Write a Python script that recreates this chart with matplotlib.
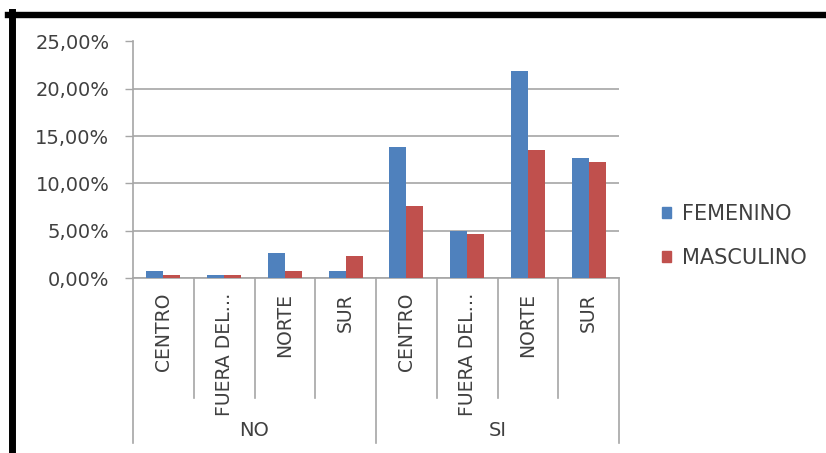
import matplotlib.pyplot as plt
import matplotlib.transforms as mtransforms
from matplotlib.lines import Line2D
from matplotlib.patches import Patch
import numpy as np

plt.rcParams['font.family'] = ['DejaVu Sans']

groups = ['NO', 'SI']
regions = ['CENTRO', 'FUERA DEL…', 'NORTE', 'SUR']
femenino = [0.75, 0.30, 2.65, 0.75, 13.9, 5.0, 21.9, 12.65]
masculino = [0.30, 0.30, 0.75, 2.35, 7.65, 4.6, 13.5, 12.3]
yticks = [0, 5, 10, 15, 20, 25]

blue = '#4F81BD'
red = '#C0504D'
grid_c = '#A6A6A6'
text_c = '#404040'

W, H = 826, 453
fig = plt.figure(figsize=(W / 100, H / 100), dpi=100)
ax = fig.add_axes([133 / W, 1 - 278 / H, (619 - 133) / W, (278 - 41.5) / H])

n = len(femenino)
x = np.arange(n)
bw = 0.28
ax.bar(x - bw / 2, femenino, bw, color=blue, zorder=3)
ax.bar(x + bw / 2, masculino, bw, color=red, zorder=3)

ax.set_xlim(-0.5, n - 0.5)
ax.set_ylim(0, 25)
ax.set_yticks(yticks)
ax.set_yticklabels(['%d,00%%' % v for v in yticks], fontsize=14, color=text_c)
ax.tick_params(axis='y', length=6, width=1, color=grid_c, pad=11)
ax.set_xticks([])
ax.yaxis.grid(True, color=grid_c, linewidth=1.2, zorder=0)
for s in ['top', 'right']:
    ax.spines[s].set_visible(False)
for s in ['left', 'bottom']:
    ax.spines[s].set_color(grid_c)
    ax.spines[s].set_linewidth(1.2)

# two-level category axis drawn below the plot
trans = mtransforms.blended_transform_factory(ax.transData, ax.transAxes)
for i in range(n + 1):
    low = -0.698 if i % len(regions) == 0 else -0.507
    ax.add_line(Line2D([i - 0.5, i - 0.5], [0, low], transform=trans,
                       color=grid_c, linewidth=1.2, clip_on=False))
for i in range(n):
    ax.text(i, -0.063, regions[i % len(regions)], transform=trans, rotation=90,
            ha='center', va='top', fontsize=13.5, color=text_c)
for g, name in enumerate(groups):
    c = g * len(regions) + (len(regions) - 1) / 2
    ax.text(c, -0.643, name, transform=trans, ha='center', va='center',
            fontsize=14, color=text_c)

handles = [Patch(color=blue), Patch(color=red)]
fig.legend(handles, ['FEMENINO', 'MASCULINO'], loc='center left',
           bbox_to_anchor=(662 / W, 1 - 236 / H), frameon=False, fontsize=15,
           labelcolor=text_c, handlelength=0.45, handleheight=0.45,
           handletextpad=0.5, labelspacing=1.15, borderpad=0, borderaxespad=0)

# black frame on top and left edges
fig.add_artist(Line2D([8 / W, 1], [1 - 15 / H, 1 - 15 / H], color='black',
                      linewidth=4.6, transform=fig.transFigure))
fig.add_artist(Line2D([11.5 / W, 11.5 / W], [0, 1 - 12 / H], color='black',
                      linewidth=5.0, transform=fig.transFigure))

fig.savefig('out.png', dpi=100)
